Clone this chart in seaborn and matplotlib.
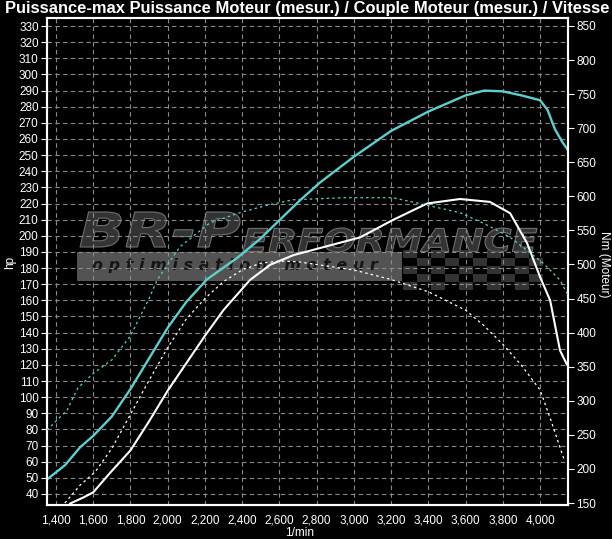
import matplotlib
matplotlib.use("Agg")
import matplotlib.pyplot as plt
import seaborn as sns
import pandas as pd
from matplotlib.patches import Rectangle, PathPatch
from matplotlib.textpath import TextPath
from matplotlib.font_manager import FontProperties
from matplotlib.transforms import Affine2D, IdentityTransform
from matplotlib.ticker import FuncFormatter

# ---------------- data ----------------
rpm_pow_tuned = [1352, 1450, 1530, 1600, 1700, 1800, 1900, 2000, 2100, 2211, 2370, 2496,
                 2603, 2711, 2818, 3000, 3200, 3400, 3600, 3700, 3800, 3900, 4000, 4040,
                 4080, 4120, 4150]
hp_tuned = [49, 58, 69, 76, 88, 105, 124, 143, 159, 173, 186, 198,
            210, 222, 233, 249, 265, 277, 287, 290, 289.5, 287, 284, 278,
            266, 258, 253]

rpm_pow_stock = [1475, 1550, 1600, 1690, 1800, 1900, 2000, 2100, 2200, 2300, 2442, 2550,
                 2675, 2818, 3033, 3210, 3393, 3570, 3731, 3839, 3930, 4000, 4054, 4107, 4145]
hp_stock = [34, 38, 41, 53, 67, 85, 104, 121, 138, 154, 172.6, 182,
            188, 192.4, 199, 209.8, 220, 222.8, 221, 214, 195.5, 174.5, 160, 129, 120]

rpm_tq_tuned = [1352, 1459, 1518, 1600, 1700, 1800, 1900, 1943, 2000, 2066, 2227, 2388,
                2534, 2675, 2942, 3210, 3393, 3570, 3700, 3839, 4017, 4107, 4150]
nm_tuned = [257, 286, 319, 340, 360, 395, 450, 477, 500, 526, 561, 576,
            587, 595, 598, 598, 587, 576, 560, 540, 502, 477, 455]

rpm_tq_stock = [1448, 1529, 1610, 1700, 1800, 1900, 2000, 2100, 2200, 2300, 2400, 2500,
                2600, 2700, 2800, 3000, 3200, 3400, 3600, 3700, 3800, 3900, 4000, 4060, 4130]
nm_stock = [150, 176, 195.5, 230, 280, 330, 378, 420, 450, 475, 492, 502,
            505, 504, 500, 492, 478, 460, 433, 410, 383, 352, 316, 270, 213]

x_ticks = list(range(1400, 4001, 200))
hp_ticks = list(range(40, 331, 10))
nm_ticks = list(range(150, 851, 50))

title = "Puissance-max Puissance Moteur (mesur.) / Couple Moteur (mesur.) / Vitesse"

# ---------------- style ----------------
sns.set_style("dark")
plt.rcParams["font.family"] = ["Liberation Sans", "DejaVu Sans"]

CYAN = "#5ccfcf"
WHITE = "#ffffff"
GRID = "#8a8a8a"

W, H = 612, 539
fig = plt.figure(figsize=(6.12, 5.39), dpi=100, facecolor="black")
ax = fig.add_axes([47 / W, 1 - 505 / H, 521 / W, 487 / H])
ax.set_facecolor("black")
ax2 = ax.twinx()
ax2.set_facecolor("none")

ax.set_xlim(1352, 4150)
ax.set_ylim(33.18, 334.96)
ax2.set_ylim(147.1, 861.7)

# ---------------- watermark logo (background) ----------------
logo = dict(transform=fig.transFigure, zorder=0.2)
ax.add_patch(Rectangle((77 / W, 1 - 281 / H), 325 / W, 29 / H,
                       facecolor="#626262", edgecolor="none", alpha=0.85, **logo))

fp_logo = FontProperties(family="DejaVu Sans", weight="bold", style="italic")


def boxed_text(s, x0, x1, ytop, ybot, face, edge):
    tp = TextPath((0, 0), s, size=40, prop=fp_logo)
    ext = tp.get_extents()
    sx = (x1 - x0) / ext.width
    sy = (ybot - ytop) / ext.height
    tr = (Affine2D().translate(-ext.x0, -ext.y0).scale(sx, sy)
          .translate(x0, H - ybot) + IdentityTransform())
    patch = PathPatch(tp, facecolor=face, edgecolor=edge, linewidth=0.8,
                      transform=tr, zorder=0.2)
    ax.add_artist(patch)


boxed_text("BR-P", 80, 240, 212, 247, "#333333", "#707070")
boxed_text("ERFORMANCE", 243, 537, 228, 252, "#333333", "#707070")
ax.text(92 / W, 1 - 266 / H, "o p t i m i s a t i o n   m o t e u r", fontsize=11.5,
        fontweight="bold", style="italic", color="#151515", va="center", ha="left",
        family="DejaVu Sans", **logo)
# checkered flag hint
for i in range(10):
    for j in range(5):
        if (i + j) % 2 == 0:
            ax.add_patch(Rectangle(((403 + i * 14) / W, 1 - (290 - j * 8) / H), 14 / W, 8 / H,
                                   facecolor="#4a4a4a", edgecolor="none", alpha=0.7, **logo))

# ---------------- grid ----------------
ax.set_xticks(x_ticks)
ax.set_yticks(hp_ticks)
ax2.set_yticks(nm_ticks)
ax.grid(True, color=GRID, linestyle=(0, (4, 3)), linewidth=0.8, zorder=0.5)
ax2.grid(False)
ax.set_axisbelow(True)

# ---------------- curves ----------------
df_pt = pd.DataFrame({"rpm": rpm_pow_tuned, "hp": hp_tuned})
df_ps = pd.DataFrame({"rpm": rpm_pow_stock, "hp": hp_stock})
df_tt = pd.DataFrame({"rpm": rpm_tq_tuned, "nm": nm_tuned})
df_ts = pd.DataFrame({"rpm": rpm_tq_stock, "nm": nm_stock})

sns.lineplot(data=df_pt, x="rpm", y="hp", ax=ax, color=CYAN, linewidth=1.7, zorder=3)
sns.lineplot(data=df_ps, x="rpm", y="hp", ax=ax, color=WHITE, linewidth=1.5, zorder=3)
sns.lineplot(data=df_tt, x="rpm", y="nm", ax=ax2, color=CYAN, linewidth=0.9,
             linestyle=(0, (2, 2.5)), zorder=3)
sns.lineplot(data=df_ts, x="rpm", y="nm", ax=ax2, color=WHITE, linewidth=0.9,
             linestyle=(0, (2, 2.5)), zorder=3)

# ---------------- axes cosmetics ----------------
for a in (ax, ax2):
    for s in a.spines.values():
        s.set_color("white")
        s.set_linewidth(1.5)
    a.set_xlabel("")
    a.set_ylabel("")

ax.tick_params(axis="both", colors="white", labelcolor="white", labelsize=8.5,
               length=4, width=0.8, direction="out", pad=2)
ax2.tick_params(axis="y", colors="white", labelcolor="white", labelsize=8.5,
                length=4, width=0.8, direction="out", pad=2)
ax.xaxis.set_major_formatter(FuncFormatter(lambda v, p: f"{int(v):,}"))
ax.tick_params(axis="x", pad=3)

fig.text(10 / W, 1 - 262 / H, "hp", color="white", fontsize=8.5, rotation=90,
         ha="center", va="center")
fig.text(604 / W, 1 - 264 / H, "Nm (Moteur)", color="white", fontsize=8.5, rotation=270,
         ha="center", va="center")
fig.text(300 / W, 1 - 533 / H, "1/min", color="white", fontsize=8.5,
         ha="center", va="center")
fig.text(5 / W, 1 - 8 / H, title, color="white", fontsize=11.9, fontweight="bold",
         ha="left", va="center")

fig.savefig("out.png", dpi=100, facecolor="black")
